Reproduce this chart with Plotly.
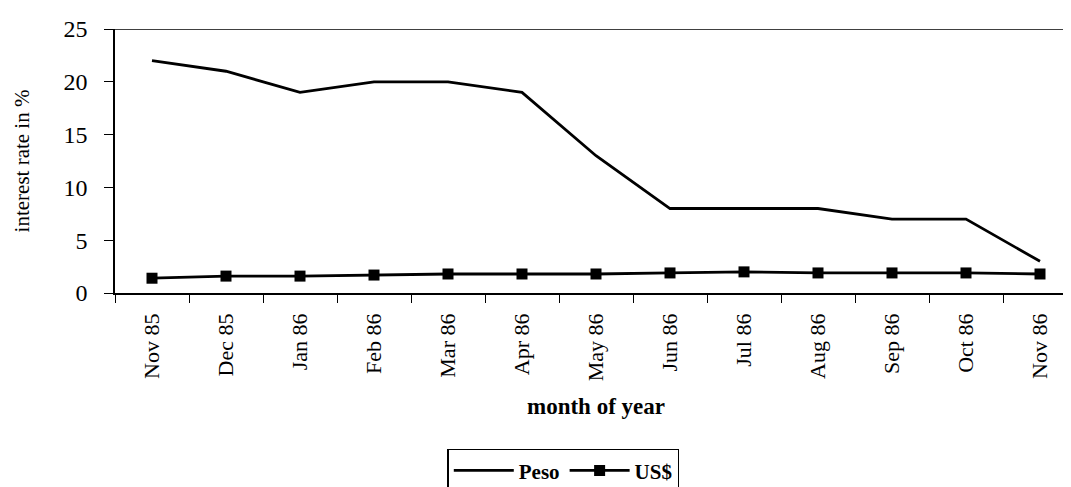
import plotly.graph_objects as go

months = ["Nov 85", "Dec 85", "Jan 86", "Feb 86", "Mar 86", "Apr 86", "May 86",
          "Jun 86", "Jul 86", "Aug 86", "Sep 86", "Oct 86", "Nov 86"]
peso = [22, 21, 19, 20, 20, 19, 13, 8, 8, 8, 7, 7, 3]
usd = [1.4, 1.6, 1.6, 1.7, 1.8, 1.8, 1.8, 1.9, 2.0, 1.9, 1.9, 1.9, 1.8]
y_ticks = [0, 5, 10, 15, 20, 25]

FONT = "Liberation Serif"

fig = go.Figure()
fig.add_trace(go.Scatter(x=months, y=peso, mode="lines", name="<b>Peso</b>",
                         line=dict(color="black", width=2.8)))
fig.add_trace(go.Scatter(x=months, y=usd, mode="lines+markers", name="<b>US$</b>",
                         line=dict(color="black", width=2.8),
                         marker=dict(symbol="square", size=11, color="black")))

fig.add_shape(type="line", xref="paper", yref="y", x0=0, x1=1, y0=25, y1=25,
              line=dict(color="black", width=1.5))

fig.update_layout(
    width=1071, height=487,
    margin=dict(l=107, r=2, t=21, b=194),
    paper_bgcolor="white", plot_bgcolor="white",
    font=dict(family=FONT, color="black", size=20),
    showlegend=True,
    legend=dict(orientation="h", x=0.466, xanchor="center", y=-0.59, yanchor="top",
                bordercolor="black", borderwidth=1.5, font=dict(size=21, family=FONT),
                itemwidth=60, tracegroupgap=0),
    xaxis=dict(
        type="category", categoryorder="array", categoryarray=months,
        range=[-0.5, 12.5], showline=True, linecolor="black", linewidth=1.5,
        ticks="outside", ticklen=8, tickcolor="black", tickson="boundaries",
        tickangle=-90, showgrid=False, zeroline=False, ticklabelstandoff=10,
        tickfont=dict(family=FONT, size=22),
        title=dict(text="<b>month of year</b>", font=dict(family=FONT, size=23), standoff=18),
    ),
    yaxis=dict(
        range=[0, 25], tickvals=y_ticks, showline=True, linecolor="black", linewidth=1.5,
        ticks="outside", ticklen=9, tickcolor="black", showgrid=False, zeroline=False,
        ticklabelstandoff=12,
        tickfont=dict(family=FONT, size=24),
        title=dict(text="interest rate in %", font=dict(family=FONT, size=21), standoff=28),
    ),
)

fig.write_html("out.html")
